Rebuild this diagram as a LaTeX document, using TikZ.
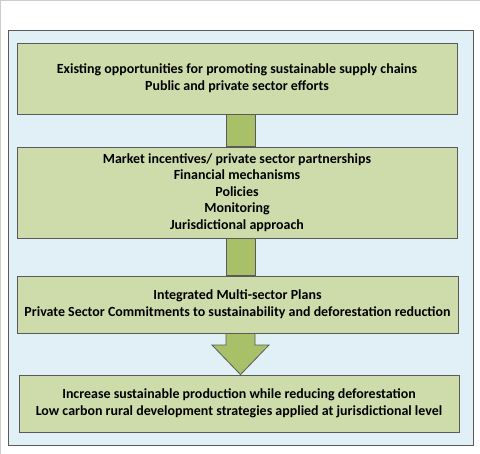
\documentclass[tikz,border=0pt]{standalone}
\usepackage{fontspec}
\setmainfont{Carlito}
\usetikzlibrary{calc,shadows}
\definecolor{panelfill}{HTML}{E1EFF7}
\definecolor{boxfill}{HTML}{CEDBAA}
\definecolor{arrowfill}{HTML}{A8C168}
\definecolor{edge}{HTML}{5A5A5A}
\tikzset{
  panel/.style={fill=panelfill,draw=edge,line width=0.8bp,
    drop shadow={shadow xshift=1.2bp,shadow yshift=-1.2bp,fill=black!35,opacity=0.6}},
  stagebox/.style={fill=boxfill,draw=edge,line width=0.8bp,
    minimum width=440bp,inner sep=0pt,align=center,
    font=\bfseries\fontsize{14}{16.7}\selectfont,
    drop shadow={shadow xshift=1.2bp,shadow yshift=-1.2bp,fill=black!40,opacity=0.6}},
  shaft/.style={fill=arrowfill,draw=edge,line width=0.8bp,line join=miter}
}
\begin{document}
\begin{tikzpicture}[x=1bp,y=-1bp]
\useasboundingbox (0,0) rectangle (480,454);
\fill[white] (0,0) rectangle (480,454);
\draw[black!20,line width=1.2bp] (0.6,454) -- (0.6,0.6) -- (480,0.6);
\node[panel,minimum width=465bp,minimum height=415bp,inner sep=0pt] (panel) at (240.5,237.5) {};
\node[stagebox,minimum height=71bp] (b1) at (237,78.5)
  {Existing opportunities for promoting sustainable supply chains\\Public and private sector efforts};
\node[stagebox,minimum height=91bp] (b2) at (237,192.5)
  {Market incentives/ private sector partnerships\\Financial mechanisms\\Policies\\Monitoring\\Jurisdictional approach};
\node[stagebox,minimum width=441bp,minimum height=57bp] (b3) at (237.5,304.5)
  {Integrated Multi-sector Plans\\Private Sector Commitments to sustainability and deforestation reduction};
\node[stagebox,minimum height=57bp] (b4) at (239,403.5)
  {Increase sustainable production while reducing deforestation\\Low carbon rural development strategies applied at jurisdictional level};
\draw[shaft] (226,0 |- b1.south) rectangle (255,0 |- b2.north);
\draw[shaft] (226,0 |- b2.south) rectangle (255,0 |- b3.north);
\draw[shaft] (226,0 |- b3.south) -- (226,345) -- (212,345) -- (240.5,0 |- b4.north)
  -- (269,345) -- (255,345) -- (255,0 |- b3.south) -- cycle;
\end{tikzpicture}
\end{document}
